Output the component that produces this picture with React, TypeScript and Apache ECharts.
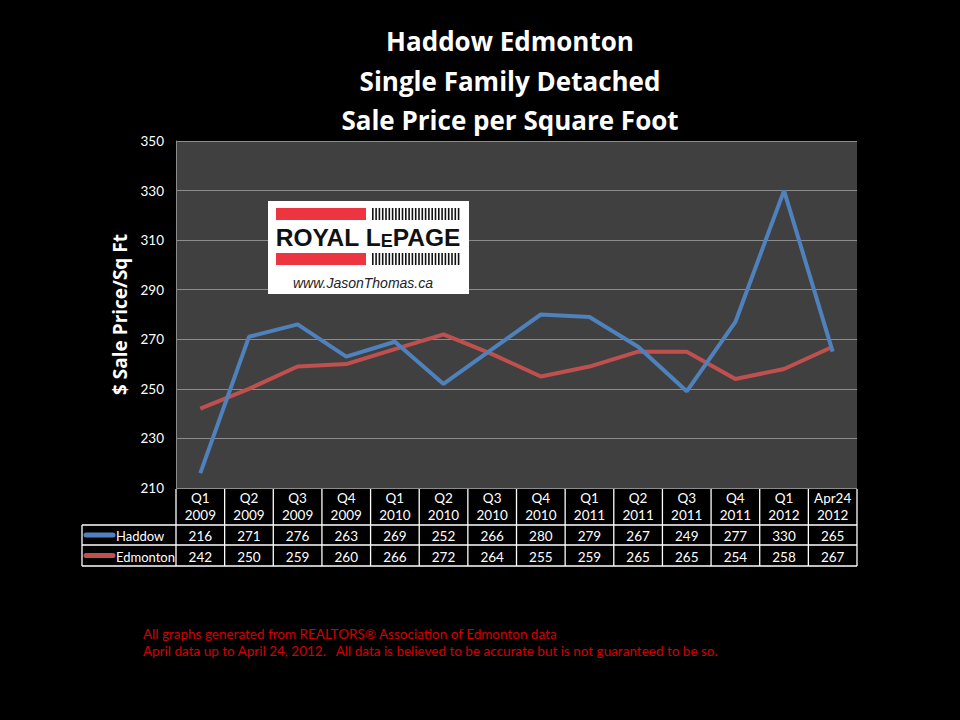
import React, { useEffect, useRef } from "react";
import * as echarts from "echarts";

const quarters = ["Q1", "Q2", "Q3", "Q4", "Q1", "Q2", "Q3", "Q4", "Q1", "Q2", "Q3", "Q4", "Q1", "Apr24"];
const years = ["2009", "2009", "2009", "2009", "2010", "2010", "2010", "2010", "2011", "2011", "2011", "2011", "2012", "2012"];
const haddow = [216, 271, 276, 263, 269, 252, 266, 280, 279, 267, 249, 277, 330, 265];
const edmonton = [242, 250, 259, 260, 266, 272, 264, 255, 259, 265, 265, 254, 258, 267];
const seriesNames = ["Haddow", "Edmonton"];
const yTicks = { min: 210, max: 350, interval: 20 };
const titleLines = ["Haddow Edmonton", "Single Family Detached", "Sale Price per Square Foot"];
const footerLines = [
  "All graphs generated from REALTORS\u00AE Association of Edmonton data",
  "April data up to April 24, 2012.   All data is believed to be accurate but is not guaranteed to be so.",
];

const BLUE = "#4f81bd";
const RED = "#c0504d";
const FONT = "Lato, 'Open Sans', sans-serif";

export default function App() {
  const ref = useRef<HTMLDivElement>(null);
  useEffect(() => {
    if (!ref.current) return;
    const chart = echarts.init(ref.current, null, { renderer: "svg" });
    const W = 960;
    const gridLeft = 176;
    const gridRight = 103;
    const gridTop = 141;
    const gridBottom = 232;
    const plotW = W - gridLeft - gridRight;
    const plotBottom = 720 - gridBottom;
    const n = quarters.length;
    const colW = plotW / n;
    const headerBottom = 525;
    const row1Bottom = 545;
    const row2Bottom = 566;
    const tableLeft = 82;
    const tableRight = gridLeft + plotW;

    const graphics: any[] = [];
    const lineStyle = { stroke: "#ffffff", lineWidth: 1.3 };
    for (let i = 0; i <= n; i++) {
      const x = gridLeft + i * colW;
      graphics.push({ type: "line", shape: { x1: x, y1: plotBottom + 1, x2: x, y2: row2Bottom }, style: lineStyle });
    }
    graphics.push({ type: "line", shape: { x1: tableLeft, y1: headerBottom, x2: tableLeft, y2: row2Bottom }, style: lineStyle });
    [headerBottom, row1Bottom, row2Bottom].forEach((y) => {
      graphics.push({ type: "line", shape: { x1: tableLeft, y1: y, x2: tableRight, y2: y }, style: lineStyle });
    });
    quarters.forEach((q, i) => {
      const cx = gridLeft + (i + 0.5) * colW;
      graphics.push({
        type: "text",
        style: { text: q, x: cx, y: 498, fill: "#ffffff", font: `13.5px ${FONT}`, textAlign: "center", textVerticalAlign: "middle" },
      });
      graphics.push({
        type: "text",
        style: { text: years[i], x: cx, y: 515, fill: "#ffffff", font: `13.5px ${FONT}`, textAlign: "center", textVerticalAlign: "middle" },
      });
    });
    const rows = [haddow, edmonton];
    const colors = [BLUE, RED];
    const rowMid = [(headerBottom + row1Bottom) / 2, (row1Bottom + row2Bottom) / 2];
    rows.forEach((vals, r) => {
      vals.forEach((v, i) => {
        graphics.push({
          type: "text",
          style: {
            text: String(v), x: gridLeft + (i + 0.5) * colW, y: rowMid[r] + 1,
            fill: "#ffffff", font: `13.5px ${FONT}`, textAlign: "center", textVerticalAlign: "middle",
          },
        });
      });
      graphics.push({
        type: "line",
        shape: { x1: tableLeft + 4, y1: rowMid[r], x2: tableLeft + 31, y2: rowMid[r] },
        style: { stroke: colors[r], lineWidth: 5, lineCap: "round" },
      });
      graphics.push({
        type: "text",
        style: {
          text: seriesNames[r], x: tableLeft + 34, y: rowMid[r] + 1,
          fill: "#ffffff", font: `13px ${FONT}`, textAlign: "left", textVerticalAlign: "middle",
        },
      });
    });

    titleLines.forEach((t, i) => {
      graphics.push({
        type: "text",
        style: {
          text: t, x: 510, y: 41 + i * 39.5,
          fill: "#ffffff", font: `bold 26px 'Open Sans', Lato, sans-serif`, textAlign: "center", textVerticalAlign: "middle",
        },
      });
    });

    footerLines.forEach((t, i) => {
      graphics.push({
        type: "text",
        style: { text: t, x: 143, y: 634 + i * 17, fill: "#d40000", font: `13.5px ${FONT}`, textAlign: "left", textVerticalAlign: "middle" },
      });
    });

    // logo
    const lx = 268, ly = 201;
    graphics.push({ type: "rect", shape: { x: lx, y: ly, width: 201, height: 93 }, style: { fill: "#ffffff" }, z: 10 });
    graphics.push({ type: "rect", shape: { x: lx + 8, y: ly + 7, width: 90, height: 12 }, style: { fill: "#ec3540" }, z: 11 });
    graphics.push({ type: "rect", shape: { x: lx + 8, y: ly + 52, width: 90, height: 12 }, style: { fill: "#ec3540" }, z: 11 });
    for (let k = 0; k < 27; k++) {
      const bx = lx + 104 + k * 3.3;
      graphics.push({ type: "rect", shape: { x: bx, y: ly + 7, width: 1.6, height: 12 }, style: { fill: "#111111" }, z: 11 });
      graphics.push({ type: "rect", shape: { x: bx, y: ly + 52, width: 1.6, height: 12 }, style: { fill: "#111111" }, z: 11 });
    }
    graphics.push({
      type: "text", z: 11,
      style: {
        text: "{a|ROYAL L}{b|E}{a|PAGE}", x: lx + 100, y: ly + 36, textAlign: "center", textVerticalAlign: "middle",
        rich: {
          a: { font: "bold 24.5px 'Liberation Sans', Arial, sans-serif", fill: "#111111" },
          b: { font: "bold 18px 'Liberation Sans', Arial, sans-serif", fill: "#111111", verticalAlign: "bottom" },
        },
      },
    });
    graphics.push({
      type: "text", z: 11,
      style: {
        text: "www.JasonThomas.ca", x: lx + 95, y: ly + 82, textAlign: "center", textVerticalAlign: "middle",
        font: "italic 14px 'Liberation Sans', Arial, sans-serif", fill: "#222222",
      },
    });

    chart.setOption({
      animation: false,
      backgroundColor: "#000000",
      grid: {
        left: gridLeft, right: gridRight, top: gridTop, bottom: gridBottom,
        show: true, backgroundColor: "#404040", borderWidth: 0,
      },
      xAxis: {
        type: "category",
        data: quarters.map((q, i) => q + " " + years[i]),
        boundaryGap: true,
        axisLine: { show: false },
        axisTick: { show: false },
        axisLabel: { show: false },
        splitLine: { show: false },
      },
      yAxis: {
        type: "value",
        min: yTicks.min, max: yTicks.max, interval: yTicks.interval,
        name: "$ Sale Price/Sq Ft",
        nameLocation: "middle",
        nameGap: 40,
        nameRotate: 90,
        nameTextStyle: { color: "#ffffff", fontSize: 19, fontWeight: "bold", fontFamily: "'Open Sans', Lato, sans-serif" },
        axisLine: { show: true, lineStyle: { color: "#8c8c8c", width: 1 } },
        axisTick: { show: false },
        axisLabel: { color: "#ffffff", fontSize: 13.5, fontFamily: FONT, margin: 12 },
        splitLine: { show: true, lineStyle: { color: "#8c8c8c", width: 1 } },
      },
      series: [
        {
          name: seriesNames[0], type: "line", data: haddow, symbol: "none",
          lineStyle: { color: BLUE, width: 4 }, itemStyle: { color: BLUE }, z: 3,
        },
        {
          name: seriesNames[1], type: "line", data: edmonton, symbol: "none",
          lineStyle: { color: RED, width: 4 }, itemStyle: { color: RED }, z: 2,
        },
      ],
      graphic: graphics,
    });
    return () => chart.dispose();
  }, []);
  return <div ref={ref} style={{ width: 960, height: 720, position: "fixed", left: 0, top: 0 }} />;
}
